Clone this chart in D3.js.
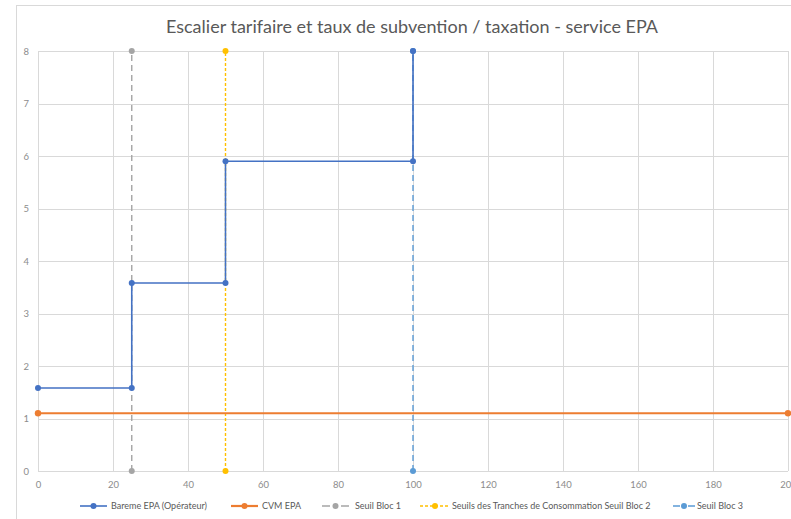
<!DOCTYPE html>
<html>
<head>
<meta charset="utf-8">
<script src="https://cdn.jsdelivr.net/npm/d3@7"></script>
<style>
  html, body { margin: 0; padding: 0; background: #fff; }
  svg { display: block; font-family: Lato, "Open Sans", sans-serif; }
</style>
</head>
<body>
<svg id="chart" width="791" height="519"></svg>
<script>
// Tariff staircase (operator scale), CVM level and block thresholds
const baremeX = [0, 25, 25, 50, 50, 100, 100];
const baremeY = [1.58, 1.58, 3.58, 3.58, 5.9, 5.9, 8];
const cvmX = [0, 200];
const cvmY = [1.1, 1.1];
const seuil1X = [25, 25];
const seuil1Y = [0, 8];
const seuil2X = [50, 50];
const seuil2Y = [0, 8];
const seuil3X = [100, 100];
const seuil3Y = [0, 8];

const xTicks = [0, 20, 40, 60, 80, 100, 120, 140, 160, 180, 200];
const yTicks = [0, 1, 2, 3, 4, 5, 6, 7, 8];

const title = "Escalier tarifaire et taux de subvention / taxation - service EPA";

const series = [
  { name: "Bareme EPA (Opérateur)", xs: baremeX, ys: baremeY, color: "#4472C4", width: 1.6, dash: null, legDash: null, r: 3 },
  { name: "CVM EPA", xs: cvmX, ys: cvmY, color: "#ED7D31", width: 2.2, dash: null, legDash: null, r: 3.2 },
  { name: "Seuil Bloc 1", xs: seuil1X, ys: seuil1Y, color: "#A5A5A5", width: 1.4, dash: "6,4", legDash: "8,11", r: 3 },
  { name: "Seuils des Tranches de Consommation Seuil Bloc 2", xs: seuil2X, ys: seuil2Y, color: "#FFC000", width: 1.4, dash: "3,2", legDash: "3,2", r: 3 },
  { name: "Seuil Bloc 3", xs: seuil3X, ys: seuil3Y, color: "#5B9BD5", width: 1.4, dash: "6,4", legDash: "7,8", r: 3 }
];

const svg = d3.select("#chart");
const W = 791, H = 519;

// outer chart frame
svg.append("rect")
  .attr("x", 16.5).attr("y", 5.5)
  .attr("width", W).attr("height", H)
  .attr("fill", "#fff").attr("stroke", "#d9d9d9").attr("stroke-width", 1);

const plot = { left: 38, right: 788, top: 51, bottom: 471 };

const x = d3.scaleLinear().domain([0, 200]).range([plot.left, plot.right]);
const y = d3.scaleLinear().domain([0, 8]).range([plot.bottom, plot.top]);

// gridlines
const grid = svg.append("g");
grid.selectAll("line.h").data(yTicks).join("line")
  .attr("x1", plot.left).attr("x2", plot.right)
  .attr("y1", d => Math.round(y(d)) + 0.5).attr("y2", d => Math.round(y(d)) + 0.5)
  .attr("stroke", "#d9d9d9").attr("stroke-width", 1);
grid.selectAll("line.v").data(xTicks).join("line")
  .attr("y1", plot.top).attr("y2", plot.bottom)
  .attr("x1", d => Math.round(x(d)) + 0.5).attr("x2", d => Math.round(x(d)) + 0.5)
  .attr("stroke", "#d9d9d9").attr("stroke-width", 1);

// axes (labels only, lines come from the grid)
const xAxis = svg.append("g")
  .attr("transform", `translate(0,${plot.bottom})`)
  .call(d3.axisBottom(x).tickValues(xTicks).tickSize(0).tickPadding(10).tickFormat(d3.format("d")));
const yAxis = svg.append("g")
  .attr("transform", `translate(${plot.left},0)`)
  .call(d3.axisLeft(y).tickValues(yTicks).tickSize(0).tickPadding(9).tickFormat(d3.format("d")));
[xAxis, yAxis].forEach(a => {
  a.select(".domain").remove();
  a.selectAll("text").attr("fill", "#8c8c8c").style("font-size", "9.5px")
    .style("font-family", "Lato, sans-serif");
});

// series
const line = d3.line().x(d => x(d[0])).y(d => y(d[1]));
const drawOrder = [2, 3, 4, 1, 0];
drawOrder.forEach(i => {
  const s = series[i];
  const pts = s.xs.map((v, k) => [v, s.ys[k]]);
  const g = svg.append("g");
  g.append("path").datum(pts)
    .attr("d", line).attr("fill", "none")
    .attr("stroke", s.color).attr("stroke-width", s.width)
    .attr("stroke-dasharray", s.dash);
  g.selectAll("circle").data(pts).join("circle")
    .attr("cx", d => x(d[0])).attr("cy", d => y(d[1])).attr("r", s.r)
    .attr("fill", s.color);
});

// title
svg.append("text")
  .attr("x", 412).attr("y", 33)
  .attr("text-anchor", "middle")
  .attr("fill", "#595959")
  .style("font-size", "18px")
  .text(title);

// legend: symbol start, symbol width, label start
const legendSym = [80, 231, 322, 420, 673];
const legendSymW = [27, 27, 27, 30, 22];
const legendText = [111, 262, 355, 452, 697];
const legend = svg.append("g").attr("transform", "translate(0,506)");
series.forEach((s, i) => {
  const g = legend.append("g");
  const x0 = legendSym[i], w = legendSymW[i];
  g.append("line").attr("x1", x0).attr("x2", x0 + w).attr("y1", 0).attr("y2", 0)
    .attr("stroke", s.color).attr("stroke-width", s.width)
    .attr("stroke-dasharray", s.legDash);
  g.append("circle").attr("cx", x0 + w / 2).attr("cy", 0).attr("r", 3).attr("fill", s.color);
  g.append("text").attr("x", legendText[i]).attr("y", 3)
    .attr("fill", "#595959").style("font-size", "9px")
    .text(s.name);
});
</script>
</body>
</html>
